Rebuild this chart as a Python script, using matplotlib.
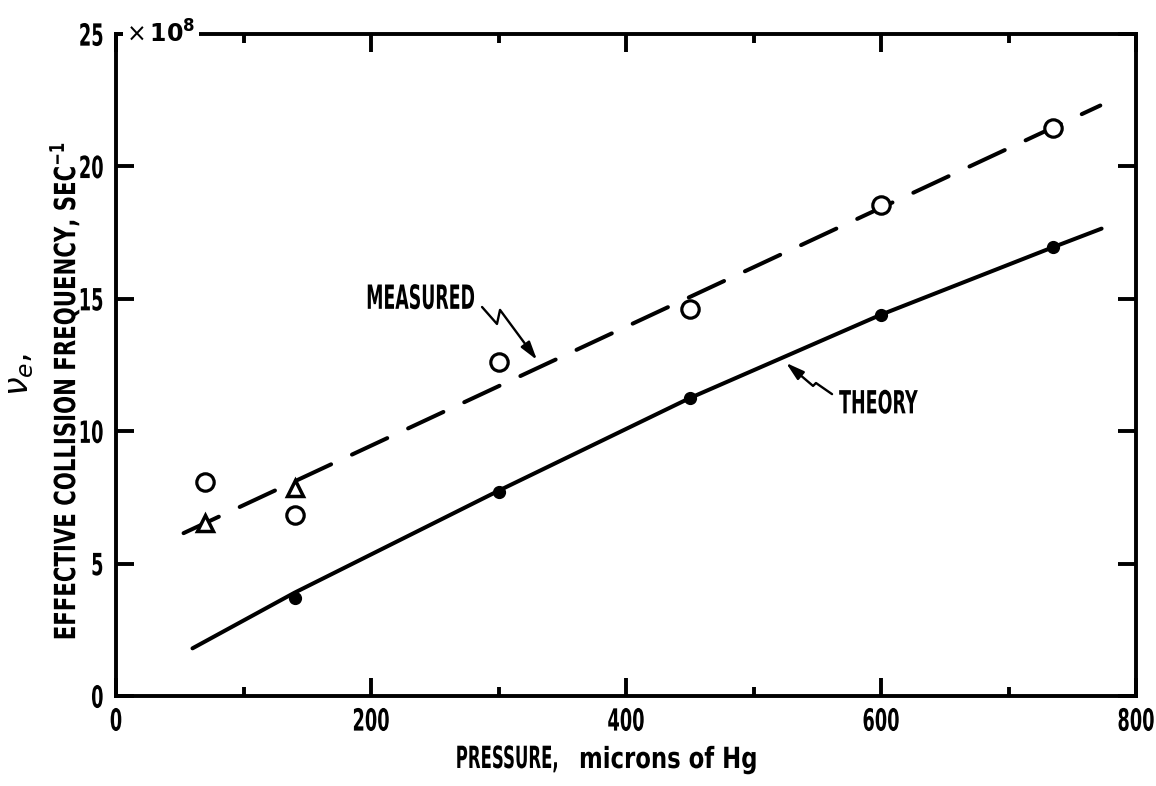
import matplotlib
matplotlib.use("Agg")
import matplotlib.pyplot as plt
from matplotlib import patheffects
from matplotlib.transforms import Affine2D
from matplotlib.patches import FancyArrowPatch
from matplotlib.path import Path

plt.rcParams["lines.scale_dashes"] = False
plt.rcParams["font.family"] = ["DejaVu Sans"]
plt.rcParams["mathtext.fontset"] = "dejavusans"

# ---- data (pressure in microns of Hg, collision frequency in units of 1e8 / s) ----
meas_circle_p = [70, 140, 300, 450, 600, 735]
meas_circle_nu = [8.1, 6.85, 12.6, 14.6, 18.55, 21.45]

meas_tri_p = [70, 140]
meas_tri_nu = [6.55, 7.85]

# straight line fitted through the measurements
meas_fit_p = [53, 772]
meas_fit_nu = [6.15, 22.3]

theory_p = [140, 300, 450, 600, 735]
theory_nu = [3.7, 7.7, 11.25, 14.4, 16.95]

theory_curve_p = [60, 140, 300, 450, 600, 735, 773]
theory_curve_nu = [1.8, 3.9, 7.75, 11.25, 14.4, 16.95, 17.65]

x_major = [0, 200, 400, 600, 800]
x_minor = [100, 300, 500, 700]
y_major = [0, 5, 10, 15, 20, 25]


class Tall(patheffects.AbstractPathEffect):
    """Stretch glyph outlines vertically to imitate tall, narrow lettering."""

    def __init__(self, sy, anchor="center"):
        super().__init__()
        self.sy = sy
        self.anchor = anchor

    def draw_path(self, renderer, gc, tpath, affine, rgbFace=None):
        ext = tpath.get_extents()
        if self.anchor == "top":
            y0 = ext.y1
        elif self.anchor == "bottom":
            y0 = ext.y0
        elif self.anchor == "baseline":
            y0 = 0.0
        else:
            y0 = 0.5 * (ext.y0 + ext.y1)
        stretch = Affine2D().translate(0, -y0).scale(1, self.sy).translate(0, y0)
        renderer.draw_path(gc, tpath, stretch + affine, rgbFace)


W, H = 1156, 786
AX_L, AX_R, AX_T, AX_B = 116, 1136, 34, 696
fig = plt.figure(figsize=(W / 100, H / 100), dpi=100)
fig.patch.set_facecolor("white")
ax = fig.add_axes([AX_L / W, 1 - AX_B / H, (AX_R - AX_L) / W, (AX_B - AX_T) / H])

ax.set_xlim(0, 800)
ax.set_ylim(0, 25)
ax.set_xticks(x_major)
ax.set_xticks(x_minor, minor=True)
ax.set_yticks(y_major)
ax.set_xticklabels([str(v) for v in x_major])
ax.set_yticklabels([str(v) for v in y_major])

for sp in ax.spines.values():
    sp.set_linewidth(2.8)

ax.tick_params(which="both", direction="in", top=True, right=True,
               width=2.8, labelsize=12.8)
ax.tick_params(which="major", length=13)
ax.tick_params(axis="x", which="major", pad=8)
ax.tick_params(axis="y", which="major", pad=9)
ax.tick_params(which="minor", length=6.5)

for lbl in ax.get_xticklabels():
    lbl.set_fontweight("bold")
    lbl.set_path_effects([Tall(1.72, "top")])
for lbl in ax.get_yticklabels():
    lbl.set_fontweight("bold")
    lbl.set_path_effects([Tall(1.72, "center")])

# measured: fitted dashed line and points
ax.plot(meas_fit_p, meas_fit_nu, color="black", lw=2.9,
        dashes=(28, 16.6), dash_capstyle="round", zorder=2)
ax.plot(meas_circle_p, meas_circle_nu, "o", ms=12.5, mfc="white", mec="black",
        mew=2.3, zorder=4)
ax.plot(meas_tri_p, meas_tri_nu, "^", ms=12, mfc="white", mec="black",
        mew=2.5, zorder=4)

# theory curve and points
ax.plot(theory_curve_p, theory_curve_nu, color="black", lw=2.9,
        solid_capstyle="round", zorder=2)
ax.plot(theory_p, theory_nu, "o", ms=8.5, color="black", zorder=4)

# curve labels with zig-zag pointers
ax.text(239, 15.03, "MEASURED", fontsize=12.5, fontweight="bold",
        ha="center", va="center", path_effects=[Tall(1.92)])
ax.text(598, 11.06, "THEORY", fontsize=12.6, fontweight="bold",
        ha="center", va="center", path_effects=[Tall(1.82)])

meas_ptr = [(287.1, 14.69), (298.8, 14.05), (301.2, 14.58), (330.2, 12.69)]
theo_ptr = [(561.6, 11.40), (549.0, 11.82), (546.7, 11.71), (525.5, 12.58)]
for verts in (meas_ptr, theo_ptr):
    arr = FancyArrowPatch(path=Path(verts),
                          arrowstyle="-|>,head_length=1.1,head_width=0.32",
                          mutation_scale=10, lw=1.7, color="black",
                          transform=ax.transData, zorder=5)
    ax.add_patch(arr)

# multiplier written across the top frame
ax.text(35.3, 25, r"$\times\,\mathbf{10}^{\mathbf{8}}$", fontsize=17,
        ha="center", va="center", zorder=6, clip_on=False,
        bbox=dict(boxstyle="square,pad=0.15", fc="white", ec="none"))

# axis titles
fig.text(507 / W, 1 - 768 / H, "PRESSURE,", fontsize=11.9, fontweight="bold",
         ha="center", va="baseline", path_effects=[Tall(1.85, "baseline")])
fig.text(668 / W, 1 - 768 / H, "microns of Hg", fontsize=16.4, fontweight="bold",
         ha="center", va="baseline", path_effects=[Tall(1.28, "baseline")])

fig.text(64 / W, 1 - 391 / H,
         r"EFFECTIVE COLLISION FREQUENCY, SEC$^{\mathbf{-1}}$",
         fontsize=15.3, fontweight="bold", rotation=90,
         ha="center", va="center", path_effects=[Tall(1.37)])
fig.text(20 / W, 1 - 374 / H, r"$\nu_e$,", fontsize=24, rotation=90,
         ha="center", va="center")

fig.savefig("out.png", dpi=100)
